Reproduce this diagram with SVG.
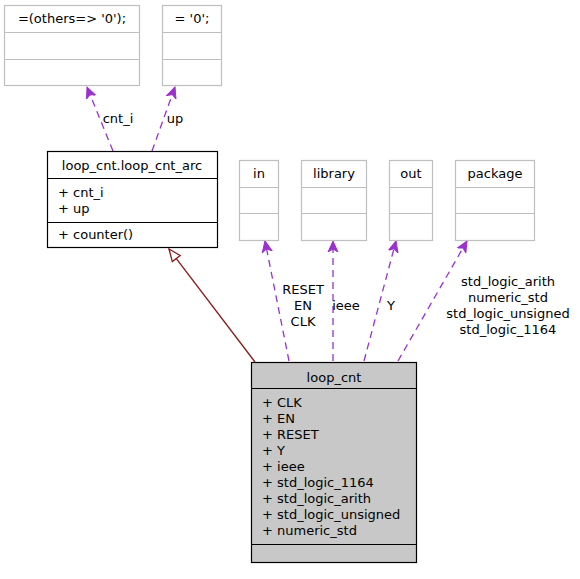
<svg xmlns="http://www.w3.org/2000/svg" width="580" height="579" viewBox="0 0 580 579">
<defs>
<style>
text{font-family:"DejaVu Sans","Liberation Sans",sans-serif;font-size:13px;fill:#000}
.c{text-anchor:middle}
.g{fill:#fff;stroke:#bfbfbf;stroke-width:1.2}
.gl{stroke:#bfbfbf;stroke-width:1.2}
.b{fill:#fff;stroke:#000;stroke-width:1.2}
.bl{stroke:#000;stroke-width:1.2}
.s{fill:#c8c8c8;stroke:#000;stroke-width:1.2}
.u{fill:none;stroke:#9a32cd;stroke-width:1.3;stroke-dasharray:7,5}
.h{fill:none;stroke:#8b1a1a;stroke-width:1.3}
</style>
<marker id="open" viewBox="0 0 12 12" refX="11" refY="6" markerWidth="12" markerHeight="12" markerUnits="userSpaceOnUse" orient="auto">
<path d="M0,1 L11,6 L0,11 L3,6 Z" fill="#9a32cd" stroke="#9a32cd" stroke-width="1"/>
</marker>
<marker id="tri" viewBox="0 0 14 12" refX="13" refY="6" markerWidth="14" markerHeight="12" markerUnits="userSpaceOnUse" orient="auto">
<path d="M1,1 L13,6 L1,11 Z" fill="#fff" stroke="#8b1a1a" stroke-width="1.3"/>
</marker>
</defs>
<g id="edges">
<path class="u" d="M113,151 L87,87" marker-end="url(#open)"/>
<path class="u" d="M152,151 L175,87" marker-end="url(#open)"/>
<path class="h" d="M255,362 L169,249" marker-end="url(#tri)"/>
<path class="u" d="M289,361 L265,241" marker-end="url(#open)"/>
<path class="u" d="M333,361 L333,241" marker-end="url(#open)"/>
<path class="u" d="M364,361 L396,241" marker-end="url(#open)"/>
<path class="u" d="M398,361 L467,241" marker-end="url(#open)"/>
<text x="118" y="123" class="c">cnt_i</text>
<text x="175" y="123" class="c">up</text>
<text x="303" y="294" class="c">RESET</text>
<text x="303" y="310" class="c">EN</text>
<text x="303" y="326" class="c">CLK</text>
<text x="346" y="310" class="c">ieee</text>
<text x="391" y="310" class="c">Y</text>
<text x="508" y="286" class="c">std_logic_arith</text>
<text x="508" y="302" class="c">numeric_std</text>
<text x="508" y="318" class="c">std_logic_unsigned</text>
<text x="508" y="334" class="c">std_logic_1164</text>
</g>
<g id="node_others">
<rect class="g" x="4.5" y="5.5" width="135" height="80"/>
<line class="gl" x1="4.5" y1="32.5" x2="139.5" y2="32.5"/>
<line class="gl" x1="4.5" y1="59.5" x2="139.5" y2="59.5"/>
<text x="72" y="23" class="c">=(others=&gt; '0');</text>
</g>
<g id="node_zero">
<rect class="g" x="162.5" y="5.5" width="59" height="80"/>
<line class="gl" x1="162.5" y1="32.5" x2="221.5" y2="32.5"/>
<line class="gl" x1="162.5" y1="59.5" x2="221.5" y2="59.5"/>
<text x="192" y="23" class="c">= '0';</text>
</g>
<g id="node_arc">
<rect class="b" x="47.5" y="151.5" width="170" height="96"/>
<line class="bl" x1="47.5" y1="178.5" x2="217.5" y2="178.5"/>
<line class="bl" x1="47.5" y1="222.5" x2="217.5" y2="222.5"/>
<text x="132" y="170" class="c">loop_cnt.loop_cnt_arc</text>
<text x="58" y="197">+ cnt_i</text>
<text x="58" y="213">+ up</text>
<text x="58" y="239">+ counter()</text>
</g>
<g id="node_in">
<rect class="g" x="239.5" y="160.5" width="39" height="80"/>
<line class="gl" x1="239.5" y1="187.5" x2="278.5" y2="187.5"/>
<line class="gl" x1="239.5" y1="213.5" x2="278.5" y2="213.5"/>
<text x="259" y="178" class="c">in</text>
</g>
<g id="node_library">
<rect class="g" x="301.5" y="160.5" width="65" height="80"/>
<line class="gl" x1="301.5" y1="187.5" x2="366.5" y2="187.5"/>
<line class="gl" x1="301.5" y1="213.5" x2="366.5" y2="213.5"/>
<text x="334" y="178" class="c">library</text>
</g>
<g id="node_out">
<rect class="g" x="389.5" y="160.5" width="43" height="80"/>
<line class="gl" x1="389.5" y1="187.5" x2="432.5" y2="187.5"/>
<line class="gl" x1="389.5" y1="213.5" x2="432.5" y2="213.5"/>
<text x="411" y="178" class="c">out</text>
</g>
<g id="node_package">
<rect class="g" x="455.5" y="160.5" width="79" height="80"/>
<line class="gl" x1="455.5" y1="187.5" x2="534.5" y2="187.5"/>
<line class="gl" x1="455.5" y1="213.5" x2="534.5" y2="213.5"/>
<text x="495" y="178" class="c">package</text>
</g>
<g id="node_loop_cnt">
<rect class="s" x="251.5" y="362.5" width="165" height="200"/>
<line class="bl" x1="251.5" y1="388.5" x2="416.5" y2="388.5"/>
<line class="bl" x1="251.5" y1="544.5" x2="416.5" y2="544.5"/>
<text x="334" y="382" class="c">loop_cnt</text>
<text x="262" y="407">+ CLK</text>
<text x="262" y="423">+ EN</text>
<text x="262" y="439">+ RESET</text>
<text x="262" y="455">+ Y</text>
<text x="262" y="471">+ ieee</text>
<text x="262" y="487">+ std_logic_1164</text>
<text x="262" y="503">+ std_logic_arith</text>
<text x="262" y="519">+ std_logic_unsigned</text>
<text x="262" y="535">+ numeric_std</text>
</g>
</svg>
